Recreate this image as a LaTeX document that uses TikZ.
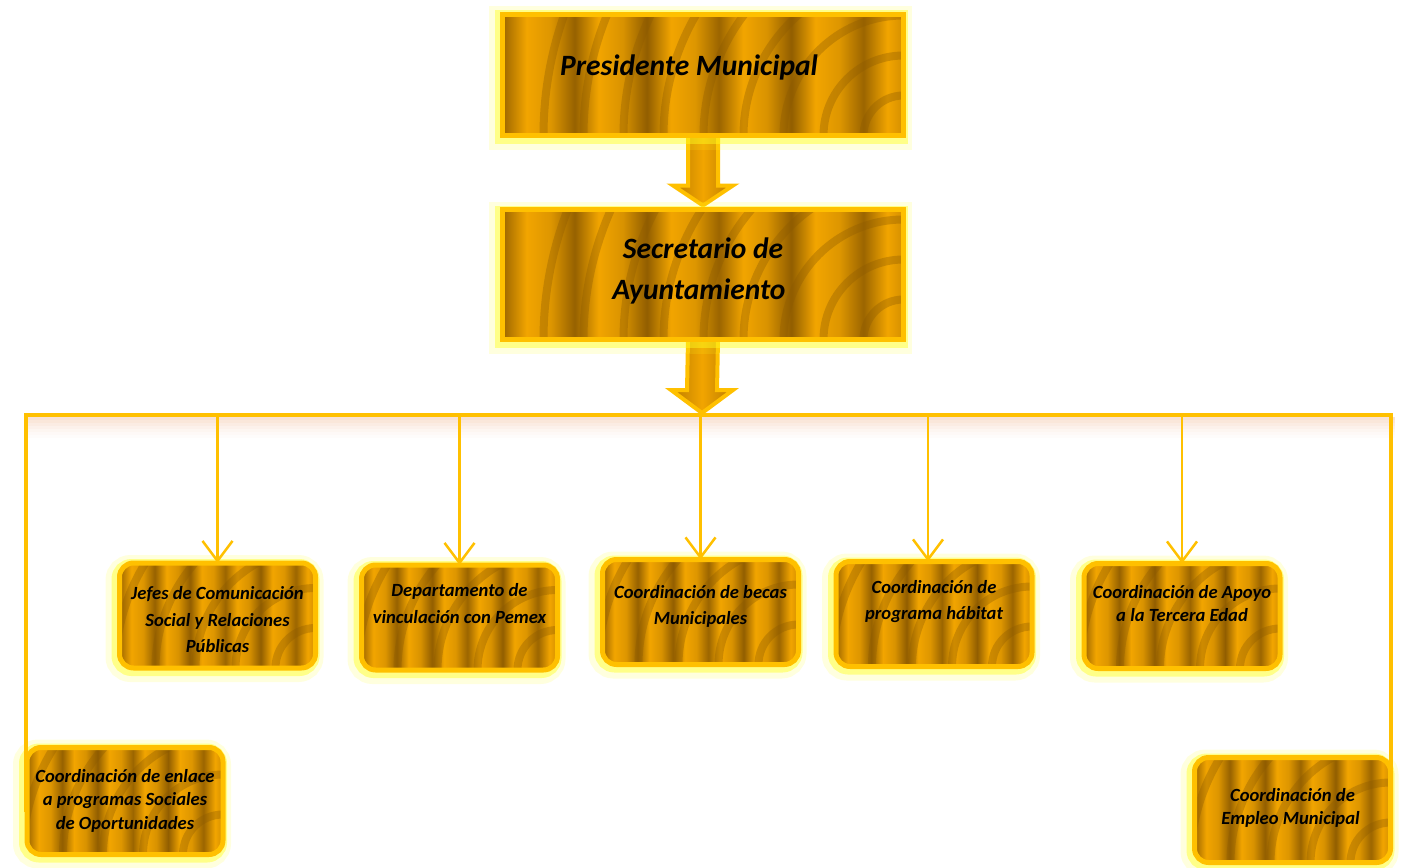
\documentclass[tikz,border=0pt]{standalone}
\usepackage{fontspec}
\setmainfont{Carlito}
\usetikzlibrary{arrows.meta,calc,shadows}
\definecolor{bord}{HTML}{FFC000}
\definecolor{gold}{HTML}{F2A500}
\definecolor{brwn}{HTML}{8C5A00}
\definecolor{glowc}{HTML}{FFFF20}
\definecolor{peach}{HTML}{F3C9AE}
\pgfdeclarehorizontalshading{goldstripes}{100bp}{color(0bp)=(gold); color(25bp)=(brwn!85!gold); color(28bp)=(gold); color(31bp)=(gold!80!brwn); color(34bp)=(brwn!90!gold); color(37bp)=(gold); color(40bp)=(gold!75!brwn); color(43bp)=(brwn!95!gold); color(46bp)=(gold); color(49bp)=(gold!80!brwn); color(52bp)=(brwn!85!gold); color(55bp)=(gold); color(58bp)=(gold!75!brwn); color(61bp)=(brwn!95!gold); color(64bp)=(gold); color(67bp)=(gold!80!brwn); color(70bp)=(brwn!85!gold); color(73bp)=(gold); color(75bp)=(gold!70!brwn); color(100bp)=(gold)}
\newcommand\boxtxt[2]{\raisebox{#1}[\height][\depth]{\begin{tabular}{@{}c@{}}#2\end{tabular}}}
\tikzset{
  glow/.style={general shadow={draw=glowc, line width=22pt, draw opacity=.15, shadow xshift=-3pt, shadow yshift=-3pt},
               general shadow={draw=glowc, line width=12pt, draw opacity=.45, shadow xshift=-2pt, shadow yshift=-2pt}},
  ripple/.style={path picture={\foreach \r in {40,80,...,360} \draw[brwn,opacity=.35,line width=8pt] (path picture bounding box.south east) circle[radius=\r];}},
  box/.style={glow, draw=bord, line width=5pt, shading=goldstripes, ripple, rounded corners=14pt,
     minimum width=196pt, minimum height=105pt, align=center, inner sep=0pt, outer sep=0pt,
     font=\bfseries\itshape\fontsize{18.6}{23.5}\selectfont},
  bigbox/.style={box, rounded corners=0pt, minimum width=401pt, font=\bfseries\itshape\fontsize{29.5}{41}\selectfont},
  blockarrow/.style={draw=bord, line width=4pt, line join=miter, left color=brwn!55!gold, right color=brwn!55!gold, middle color=gold},
  bus/.style={draw=bord, line width=4pt},
  drop/.style={draw=bord, line width=2.5pt, -{Straight Barb[length=20pt,width=30pt,line width=2.5pt]}}
}
\begin{document}
\begin{tikzpicture}[x=1pt,y=-1pt]
\useasboundingbox (0,0) rectangle (1402,867);

% bus coordinates
\coordinate (busL) at (26,415);
\coordinate (busR) at (1391,415);
\coordinate (busM) at (702,413);
\coordinate (presS) at (703,135.5);
\coordinate (secN) at (703,209.5);
\coordinate (secS) at (703,339.5);

% block arrows (drawn first, boxes cover their ends)
\path[blockarrow] ($(presS)+(-15,0)$) -- ($(secN)+(-15,-24)$) -- ($(secN)+(-30,-24)$)
   -- ($(secN)+(0,-4)$) -- ($(secN)+(30,-24)$) -- ($(secN)+(15,-24)$)
   -- ($(presS)+(15,0)$) -- cycle;
\path[blockarrow] ($(secS)+(-15,0)$) -- ($(busM)+(-15,-23)$) -- ($(busM)+(-31,-23)$)
   -- (busM) -- ($(busM)+(31,-23)$) -- ($(busM)+(15,-23)$)
   -- ($(secS)+(15,0)$) -- cycle;

% top boxes
\node[bigbox, minimum height=121pt] (pres) at (703,75) {\boxtxt{8pt}{Presidente Municipal\hspace*{28pt}}};
\node[bigbox, minimum height=130pt] (sec) at (703,274.5) {\boxtxt{4pt}{Secretario de\\Ayuntamiento\hspace*{8pt}}};

% lower boxes
\node[box] (b1) at (217.5,615.5) {\boxtxt{-6pt}{Jefes de Comunicación\\[3pt]Social y Relaciones\\[3pt]Públicas}};
\node[box] (b2) at (459.5,617.5) {\boxtxt{12pt}{Departamento de\\[3pt]vinculación con Pemex}};
\node[box] (b3) at (700.5,612) {\boxtxt{5pt}{Coordinación de becas\\[3pt]Municipales}};
\node[box] (b4) at (934,614) {\boxtxt{12pt}{Coordinación de\\[2pt]programa hábitat}};
\node[box] (b5) at (1182,616) {\boxtxt{10.5pt}{Coordinación de Apoyo\\a la Tercera Edad}};
\node[box, minimum height=107pt] (b6) at (125,801) {\boxtxt{0pt}{Coordinación de enlace\\a programas Sociales\\de Oportunidades}};
\node[box] (b7) at (1292.5,810) {\boxtxt{1.5pt}{Coordinación de\\Empleo Municipal\hspace*{4pt}}};

% bus shadow and bus
\foreach \d/\o in {2/.55,5/.45,8/.35,11/.25,14/.17,17/.1,20/.05}
  \fill[peach, opacity=\o] ($(busL)+(-2,\d)$) rectangle ($(busR)+(4,\d+3)$);
\draw[bus] ($(busL)+(-2,0)$) -- ($(busR)+(2,0)$);
\draw[bus] (busL) -- ($(busL |- b6.west)+(0,11)$);
\draw[bus] (busR) -- ($(busR |- b7.east)+(0,-2)$);

% drops
\draw[drop] (b1.north |- busL) -- (b1.north);
\draw[drop] (b2.north |- busL) -- (b2.north);
\draw[drop] (b3.north |- busL) -- (b3.north);
\draw[drop] ($(b4.north |- busL)+(-6,0)$) -- ($(b4.north)+(-6,0)$);
\draw[drop] (b5.north |- busL) -- (b5.north);
\end{tikzpicture}
\end{document}
